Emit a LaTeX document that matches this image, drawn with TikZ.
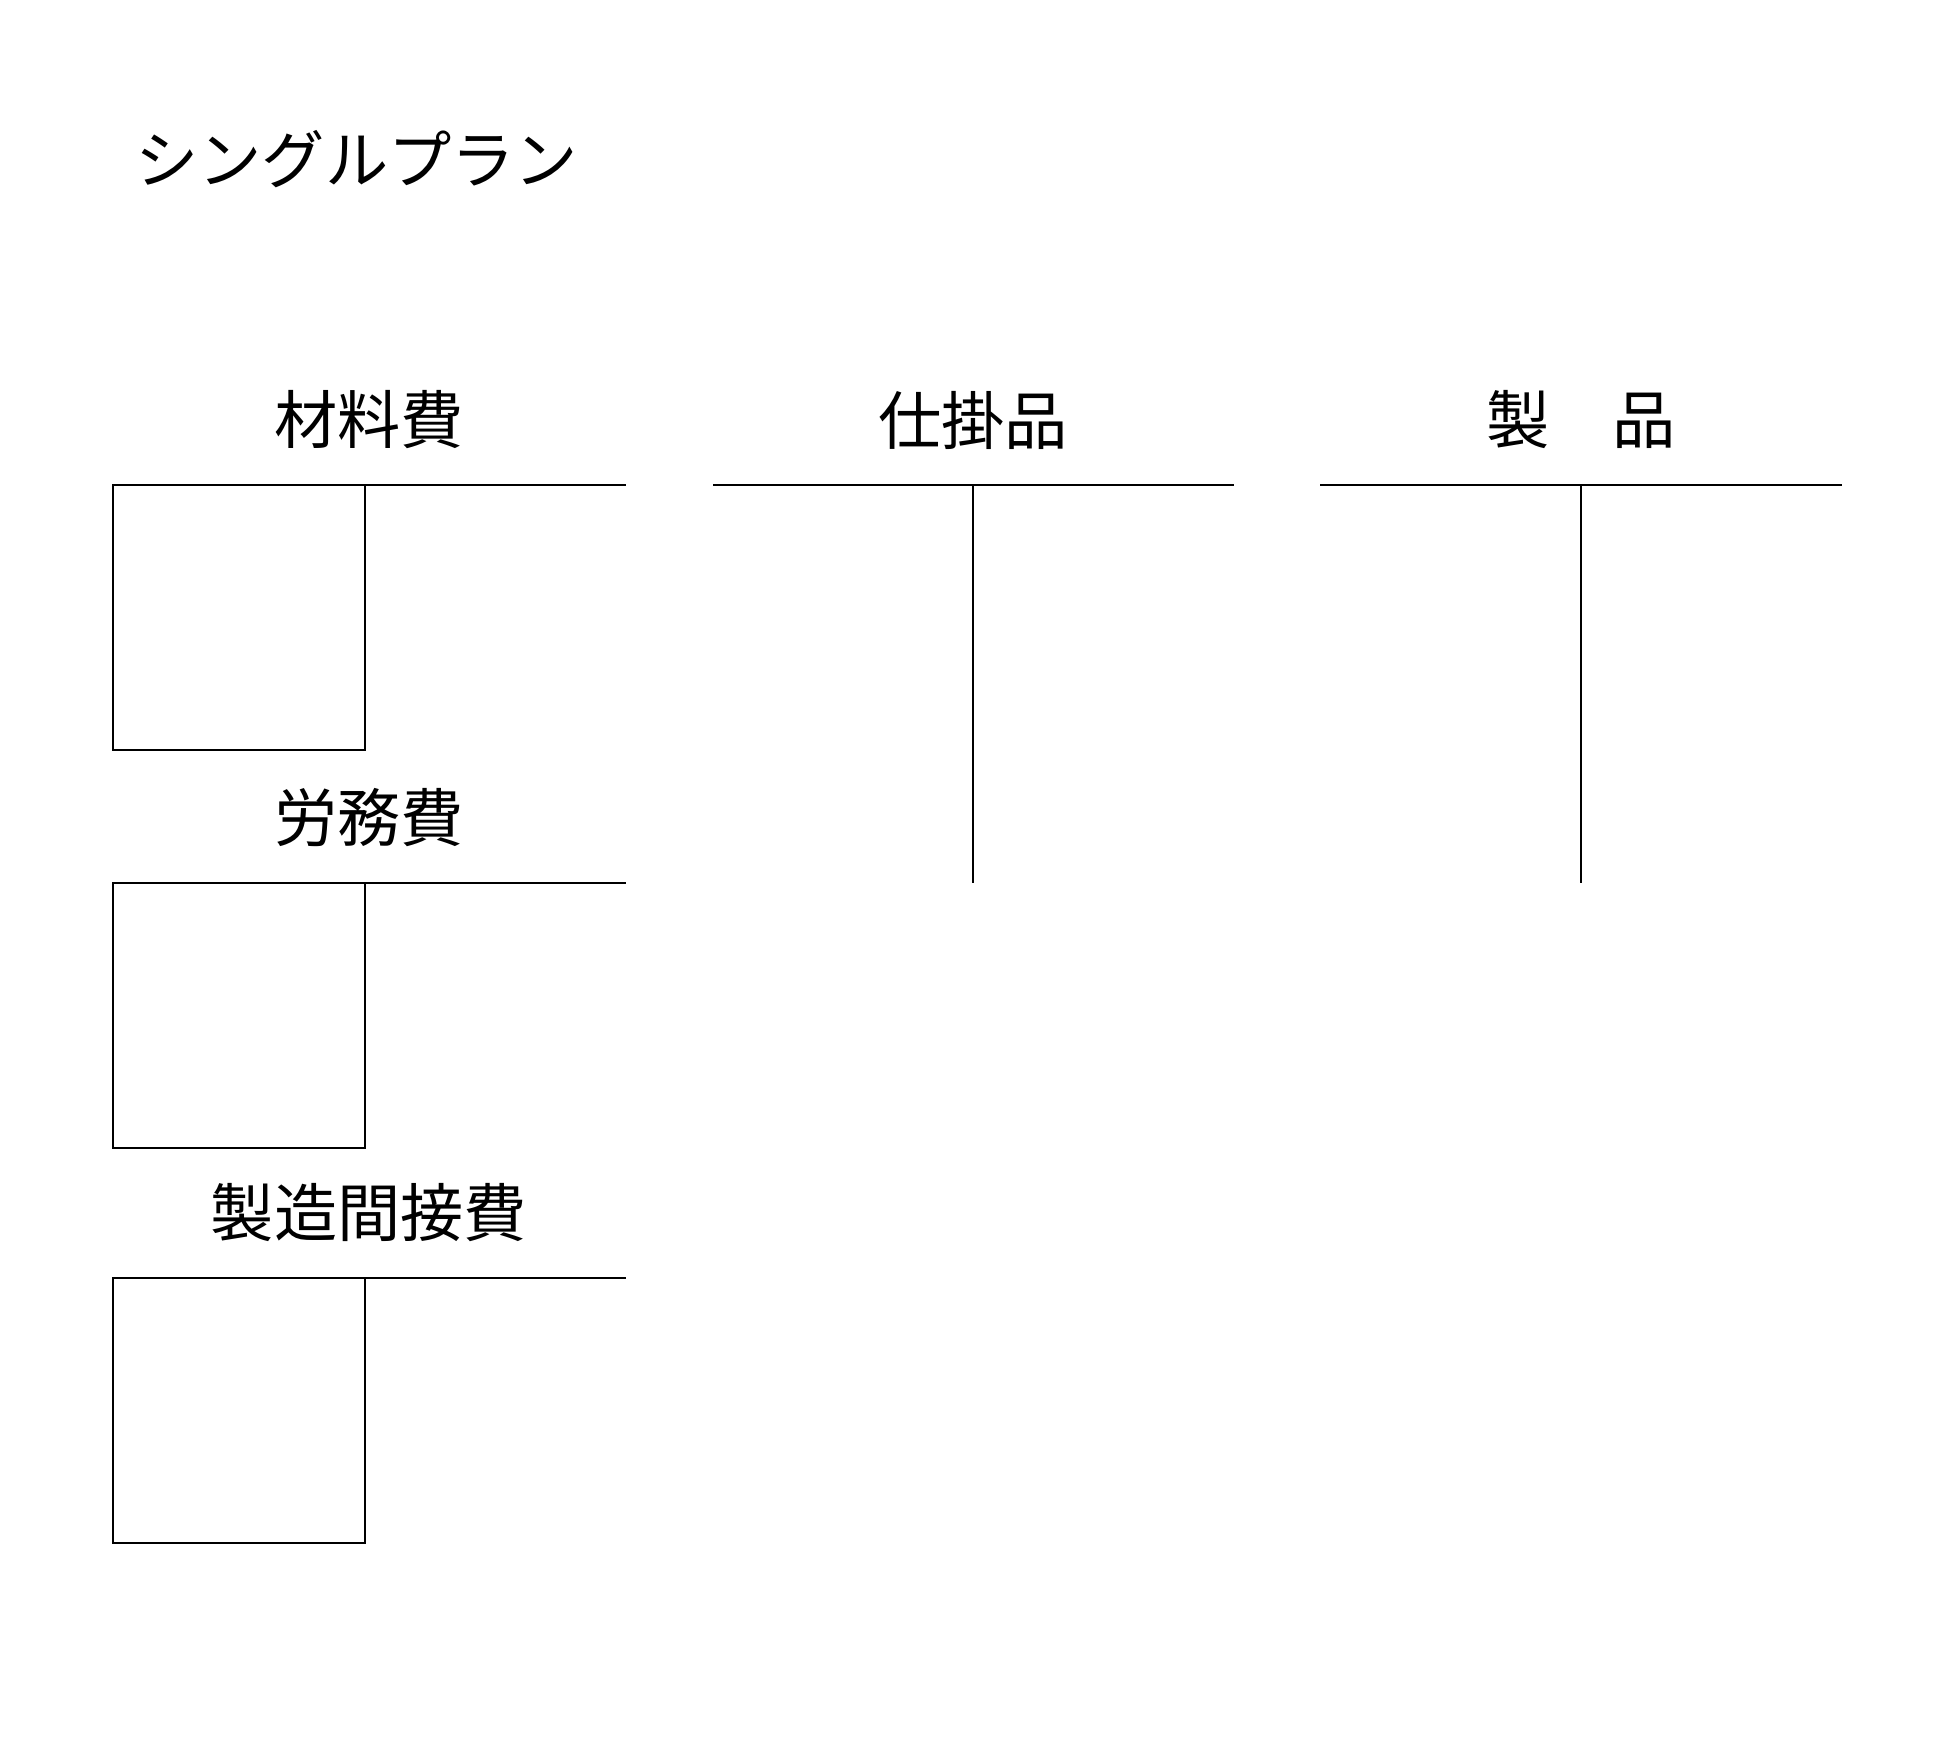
\documentclass[tikz,border=0pt]{standalone}
\usepackage{fontspec}
\newfontfamily\jpfont{Noto Sans CJK JP}
\usetikzlibrary{positioning}
\tikzset{
	heading/.style={font=\jpfont\fontsize{36}{40}\selectfont, inner sep=0pt},
	ruleline/.style={line width=0.9pt, draw=black},
	boxline/.style={line width=0.7pt, draw=black},
}
\begin{document}
\begin{tikzpicture}[x=0.02cm, y=-0.02cm]
	\useasboundingbox (0,0) rectangle (1949,1757);
	\node[heading, anchor=west] (title) at (135,159) {シングルプラン};
	% left accounts
	\foreach \name/\lbl/\top in {mat/材料費/485, lab/労務費/883, ovh/製造間接費/1278}{
		\node[heading] (\name) at (369,\top-65) {\lbl};
		\draw[ruleline] (113,\top) -- (626,\top);
		\draw[boxline] (113,\top) rectangle (365,\top+265);
	}
	% T accounts
	\node[heading] (wip) at (973,420) {仕掛品};
	\node[heading] (prod) at (1581,420) {製　品};
	\draw[ruleline] (713,485) -- (1234,485);
	\draw[boxline] (973,485) -- (973,883);
	\draw[ruleline] (1320,485) -- (1842,485);
	\draw[boxline] (1581,485) -- (1581,883);
\end{tikzpicture}
\end{document}
